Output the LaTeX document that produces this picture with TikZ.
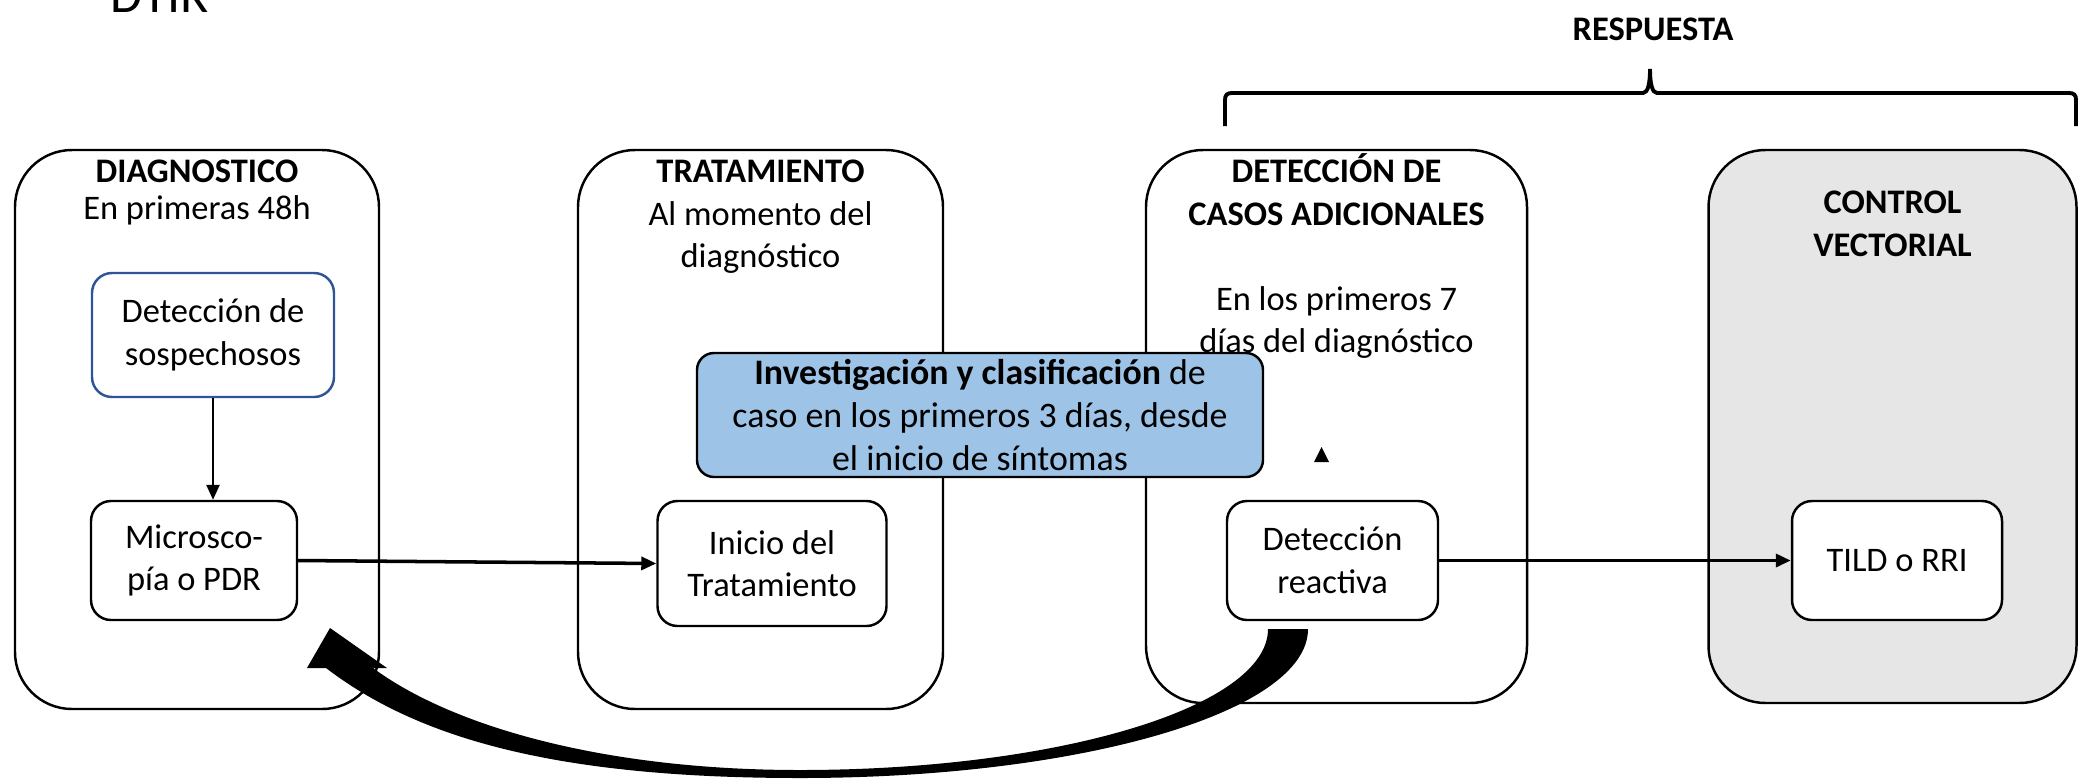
\documentclass[tikz,border=0pt]{standalone}
\usepackage{fontspec}
\setmainfont{Carlito}
\usetikzlibrary{arrows.meta, positioning}
\definecolor{invblue}{RGB}{157,195,230}
\definecolor{stagegrey}{RGB}{231,230,230}
\definecolor{sosblue}{RGB}{47,85,151}

\begin{document}
\begin{tikzpicture}[font=\fontsize{9.8}{12.1}\selectfont,
    stage/.style={draw, line width=0.7pt, rounded corners=0.57cm, inner sep=0},
    act/.style={draw, fill=white, line width=0.7pt, rounded corners=0.2cm, align=center, inner sep=0},
    ttl/.style={align=center, inner sep=0, anchor=north},
    arr/.style={-{Triangle[length=0.15cm, width=0.13cm]}, line width=0.7pt}]
\useasboundingbox (0,0) rectangle (20.87,7.78);

% etapas
\node[stage, minimum width=3.64cm, minimum height=5.59cm] (diag) at (1.97,3.485) {};
\node[stage, minimum width=3.65cm, minimum height=5.59cm] (trat) at (7.605,3.485) {};
\node[stage, minimum width=3.81cm, minimum height=5.53cm] (det) at (13.365,3.515) {};
\node[stage, fill=stagegrey, minimum width=3.68cm, minimum height=5.53cm] (ctrl) at (18.925,3.515) {};

\node[ttl] (diagT) at (diag.north) {\rule{0pt}{0.33cm}\textbf{DIAGNOSTICO}\\[-0.06cm]En primeras 48h};
\node[ttl] (tratT) at (trat.north) {\rule{0pt}{0.33cm}\textbf{TRATAMIENTO}\\Al momento del\\diagnóstico};
\node[ttl] (detT) at (det.north) {\rule{0pt}{0.33cm}\textbf{DETECCIÓN DE}\\\textbf{CASOS ADICIONALES}\\[\baselineskip]En los primeros 7\\días del diagnóstico};
\node[ttl] (ctrlT) at (ctrl.north) {\rule{0pt}{0.64cm}\textbf{CONTROL}\\\textbf{VECTORIAL}};

% acciones
\node[act, draw=sosblue, minimum width=2.42cm, minimum height=1.24cm] (sos) at (2.13,4.43) {Detección de\\sospechosos};
\node[act, minimum width=2.06cm, minimum height=1.19cm] (mic) at (1.94,2.175) {Microsco-\\pía o PDR};
\node[act, minimum width=2.29cm, minimum height=1.25cm] (ini) at (7.72,2.145) {Inicio del\\Tratamiento};
\node[act, minimum width=2.11cm, minimum height=1.19cm] (dr) at (13.325,2.175) {Detección\\reactiva};
\node[act, minimum width=2.10cm, minimum height=1.19cm] (tild) at (18.97,2.175) {TILD o RRI};

\draw[arr] (sos.south) -- (sos.south |- mic.north);
\draw[arr, line width=1pt] (mic.east) -- (ini.west);
\draw[arr, line width=1pt] (dr.east) -- (tild.west);

\node[act, fill=invblue, rounded corners=0.17cm, minimum width=5.66cm, minimum height=1.24cm, font=\fontsize{10.2}{12.3}\selectfont] (inv) at (9.80,3.63) {\textbf{Investigación y clasificación} de\\caso en los primeros 3 días, desde\\el inicio de síntomas};

\fill (13.14,3.16) -- (13.29,3.16) -- (13.215,3.31) -- cycle;

% flecha de retorno
\fill (13.08,1.49) .. controls (13.08,0.66) and (10.81,0) .. (8.00,0)
  .. controls (5.60,0) and (4.20,0.38) .. (3.26,1.10) -- (3.07,1.10) -- (3.30,1.50) -- (3.87,1.10) -- (3.73,1.10)
  .. controls (4.50,0.53) and (6.00,0.08) .. (8.00,0.08)
  .. controls (10.58,0.08) and (12.68,0.71) .. (12.68,1.49) -- cycle;

% llave
\draw[line width=1.1pt] (12.25,6.52) -- (12.25,6.78) .. controls (12.25,6.83) and (12.27,6.85) .. (12.32,6.85)
  -- (16.43,6.85) .. controls (16.48,6.85) and (16.50,6.95) .. (16.50,7.09)
  .. controls (16.50,6.95) and (16.52,6.85) .. (16.57,6.85) -- (20.69,6.85)
  .. controls (20.74,6.85) and (20.76,6.83) .. (20.76,6.78) -- (20.76,6.52);
\node[font=\fontsize{9.8}{12.1}\selectfont\bfseries, anchor=base, inner sep=0] (resp) at (16.53,7.38) {RESPUESTA};

\node[font=\fontsize{14.8}{17}\selectfont, anchor=base west, inner sep=0] (dtir) at (1.10,7.66) {DTIR};

\end{tikzpicture}
\end{document}
